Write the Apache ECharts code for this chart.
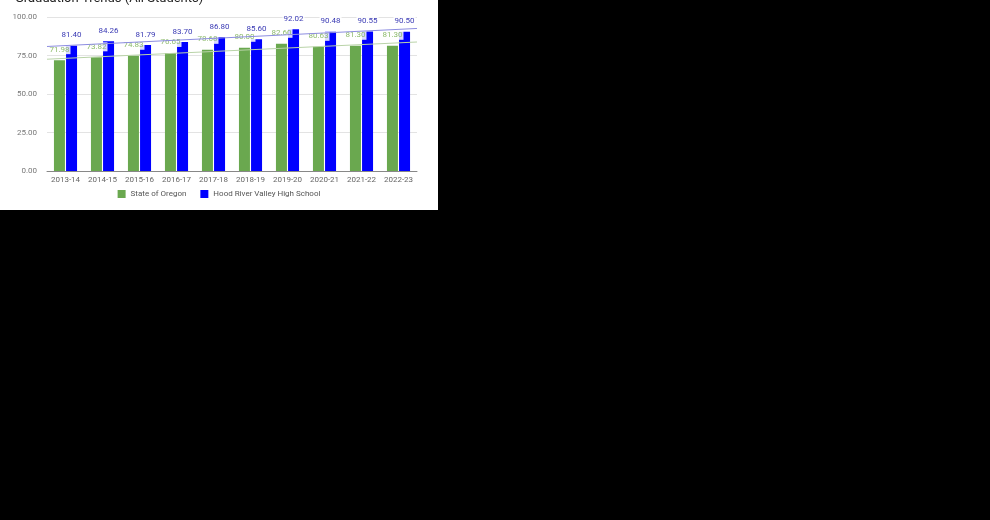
<!DOCTYPE html>
<html lang="en">
<head>
    <meta charset="UTF-8">
    <title>Graduation Trends</title>
    <script src="https://cdn.jsdelivr.net/npm/echarts@6/dist/echarts.min.js"></script>
    <style>
        html, body { margin: 0; padding: 0; background: #000; }
        #viz { width: 438px; height: 210px; background: #fff; }
    </style>
</head>
<body>
    <div id="viz"></div>
    <script>
        const title = 'Graduation Trends (All Students)';
        const years = ['2013-14', '2014-15', '2015-16', '2016-17', '2017-18',
                       '2018-19', '2019-20', '2020-21', '2021-22', '2022-23'];
        const oregon = [71.98, 73.82, 74.83, 76.65, 78.68, 80.00, 82.60, 80.63, 81.30, 81.30];
        const hoodRiver = [81.40, 84.26, 81.79, 83.70, 86.80, 85.60, 92.02, 90.48, 90.55, 90.50];
        const yTicks = [0, 25, 50, 75, 100];

        const font = 'Roboto';

        // least squares trend over the category index, drawn edge to edge
        const trend = (vals) => {
            const n = vals.length;
            const mx = (n - 1) / 2;
            const my = vals.reduce((a, b) => a + b, 0) / n;
            let sxy = 0, sxx = 0;
            vals.forEach((v, i) => { sxy += (i - mx) * (v - my); sxx += (i - mx) * (i - mx); });
            const k = sxy / sxx;
            return [-0.5, n - 0.5].map(x => [x, my + k * (x - mx)]);
        };

        const label = (color) => ({
            show: true,
            position: 'top',
            distance: 6,
            fontFamily: font,
            fontSize: 8,
            lineHeight: 9,
            color: color,
            backgroundColor: 'rgba(255,255,255,0.85)',
            padding: [0, 1],
            formatter: p => p.value.toFixed(2)
        });

        const option = {
            animation: false,
            textStyle: { fontFamily: font },
            title: {
                text: title,
                left: 10,
                top: -13,
                textStyle: { fontFamily: font, fontSize: 13, fontWeight: 'normal', color: '#222' }
            },
            legend: {
                bottom: 7,
                left: 'center',
                itemWidth: 8,
                itemHeight: 8,
                itemGap: 14,
                icon: 'rect',
                textStyle: { fontFamily: font, fontSize: 8, color: '#555' },
                data: ['State of Oregon', 'Hood River Valley High School']
            },
            grid: { left: 47, right: 21, top: 17, bottom: 39 },
            xAxis: [
                {
                    type: 'category',
                    data: years,
                    axisTick: { show: false },
                    axisLine: { lineStyle: { color: '#888' } },
                    axisLabel: { interval: 0, fontSize: 8, color: '#666', margin: 5 }
                },
                {
                    type: 'value',
                    min: -0.5,
                    max: years.length - 0.5,
                    show: false
                }
            ],
            yAxis: {
                type: 'value',
                min: yTicks[0],
                max: yTicks[yTicks.length - 1],
                interval: 25,
                axisLine: { show: false },
                axisTick: { show: false },
                splitLine: { lineStyle: { color: '#e3e3e3' } },
                axisLabel: { fontSize: 8, color: '#777', margin: 10, formatter: v => v.toFixed(2) }
            },
            series: [
                {
                    name: 'State of Oregon',
                    type: 'bar',
                    data: oregon,
                    barWidth: 11,
                    barGap: '10%',
                    itemStyle: { color: '#6aa84f' },
                    label: label('#8dbb6c'),
                    z: 2
                },
                {
                    name: 'Hood River Valley High School',
                    type: 'bar',
                    data: hoodRiver,
                    barWidth: 11,
                    itemStyle: { color: '#0000ff' },
                    label: label('#3a3ab4'),
                    z: 2
                },
                {
                    name: 'Oregon trend',
                    type: 'line',
                    xAxisIndex: 1,
                    data: trend(oregon),
                    symbol: 'none',
                    silent: true,
                    lineStyle: { color: '#b9d3a8', width: 1 },
                    z: 3
                },
                {
                    name: 'Hood River trend',
                    type: 'line',
                    xAxisIndex: 1,
                    data: trend(hoodRiver),
                    symbol: 'none',
                    silent: true,
                    lineStyle: { color: '#8c8ce0', width: 1 },
                    z: 3
                }
            ]
        };

        const chart = echarts.init(document.getElementById('viz'), null, { renderer: 'canvas' });
        chart.setOption(option);
    </script>
</body>
</html>
